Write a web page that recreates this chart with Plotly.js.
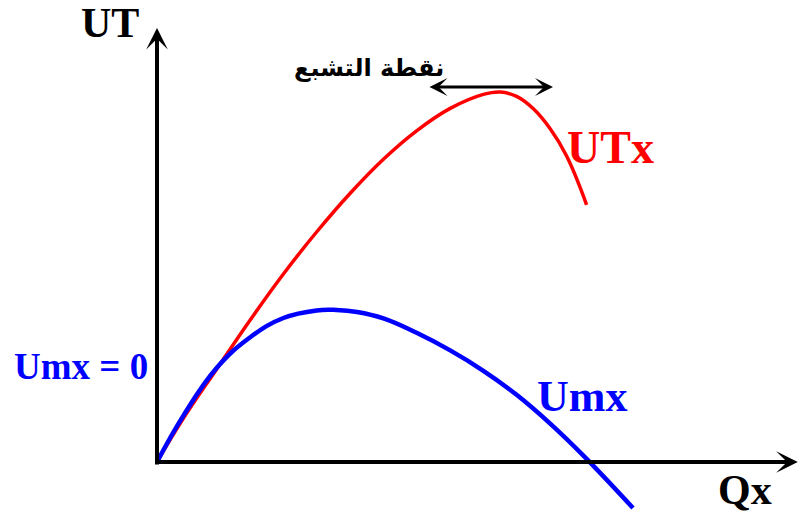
<!DOCTYPE html>
<html>
<head>
<meta charset="utf-8">
<script src="https://cdn.plot.ly/plotly-3.0.1.min.js"></script>
<style>html,body{margin:0;padding:0;background:#fff;}#chart{width:799px;height:515px;}</style>
</head>
<body>
<div id="chart"></div>
<script>
// Total utility (UTx) curve
const utxQ = [0, 0.66, 1.49, 2.33, 3.16, 3.99, 4.83, 5.66, 6.49, 7.33, 8.16, 8.58, 8.99, 9.41, 9.83, 10.24, 10.74];
const utxU = [0, 1.09, 2.32, 3.55, 4.70, 5.75, 6.72, 7.57, 8.28, 8.84, 9.19, 9.25, 9.14, 8.83, 8.33, 7.65, 6.43];
// Marginal utility (Umx) curve
const umxQ = [0, 0.66, 1.49, 2.33, 3.16, 3.99, 4.49, 5.00, 5.66, 6.49, 7.33, 8.16, 8.99, 9.83, 10.66, 11.9];
const umxU = [0, 1.16, 2.35, 3.12, 3.60, 3.79, 3.80, 3.75, 3.59, 3.23, 2.79, 2.28, 1.68, 0.96, 0.16, -1.15];

const labels = {
  yAxis: "UT",
  xAxis: "Qx",
  utx: "UTx",
  umx: "Umx",
  umxZero: "Umx = 0",
  saturation: "نقطة التشبع"
};

const serif = "Liberation Serif, Times New Roman, serif";

const traces = [
  {x: utxQ, y: utxU, mode: "lines", line: {color: "#ff0000", width: 3.5, shape: "spline", smoothing: 1.2}, hoverinfo: "skip"},
  {x: umxQ, y: umxU, mode: "lines", line: {color: "#0000ff", width: 4.5, shape: "spline", smoothing: 1.2}, hoverinfo: "skip"}
];

const arrowBase = {axref: "x", ayref: "y", xref: "x", yref: "y", text: "", showarrow: true, arrowcolor: "#000", standoff: 0, startstandoff: 0};

const annotations = [
  Object.assign({}, arrowBase, {x: 0, y: 10.85, ax: 0, ay: -0.1, arrowhead: 3, arrowwidth: 4, arrowsize: 0.9}),
  Object.assign({}, arrowBase, {x: 16.02, y: 0, ax: -0.05, ay: 0, arrowhead: 3, arrowwidth: 4, arrowsize: 0.9}),
  Object.assign({}, arrowBase, {x: 9.9, y: 9.375, ax: 6.775, ay: 9.375, arrowhead: 3, startarrowhead: 3, arrowside: "end+start", arrowwidth: 3, arrowsize: 1.0, startarrowsize: 1.0}),
  {x: -1.175, y: 10.975, xref: "x", yref: "y", text: "<b>" + labels.yAxis + "</b>", showarrow: false, font: {family: serif, size: 42, color: "#000"}},
  {x: 14.71, y: -0.70, xref: "x", yref: "y", text: "<b>" + labels.xAxis + "</b>", showarrow: false, font: {family: serif, size: 42, color: "#000"}},
  {x: 11.33, y: 7.875, xref: "x", yref: "y", text: "<b>" + labels.utx + "</b>", showarrow: false, font: {family: serif, size: 46, color: "#ff0000"}},
  {x: 10.625, y: 1.65, xref: "x", yref: "y", text: "<b>" + labels.umx + "</b>", showarrow: false, font: {family: serif, size: 44, color: "#0000ff"}},
  {x: -1.9, y: 2.4, xref: "x", yref: "y", text: "<b>" + labels.umxZero + "</b>", showarrow: false, font: {family: serif, size: 37, color: "#0000ff"}},
  {x: 5.3, y: 9.85, xref: "x", yref: "y", text: "<b>" + labels.saturation + "</b>", showarrow: false, font: {family: "DejaVu Sans, Noto Sans, sans-serif", size: 24, color: "#000"}}
];

const layout = {
  width: 799, height: 515,
  margin: {l: 0, r: 0, t: 0, b: 0},
  paper_bgcolor: "#fff", plot_bgcolor: "#fff",
  showlegend: false,
  xaxis: {range: [-3.925, 16.05], visible: false, fixedrange: true},
  yaxis: {range: [-1.325, 11.55], visible: false, fixedrange: true},
  annotations: annotations
};

Plotly.newPlot("chart", traces, layout, {displayModeBar: false, staticPlot: true});
</script>
</body>
</html>
